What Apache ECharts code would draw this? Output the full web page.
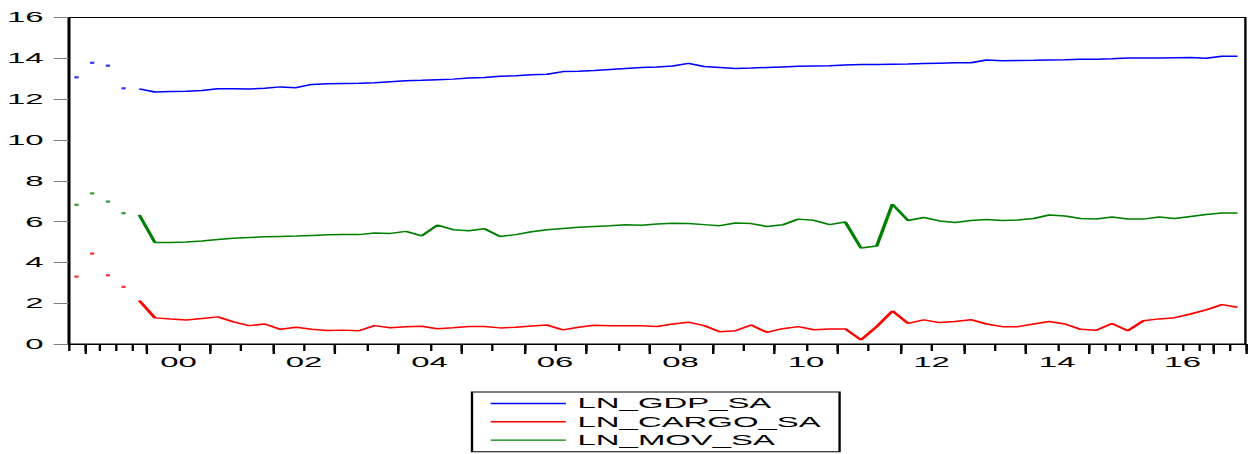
<!DOCTYPE html>
<html>
<head>
<meta charset="utf-8">
<script src="https://cdn.jsdelivr.net/npm/echarts@6/dist/echarts.min.js"></script>
<style>
  html, body { margin: 0; padding: 0; background: #fff; overflow: hidden; }
  #wrap { width: 1256px; height: 454px; overflow: hidden; }
  #chart { height: 454px; transform-origin: 0 0; }
</style>
</head>
<body>
<div id="wrap"><div id="chart"></div></div>
<script>
// Quarterly observations, 1998Q4 - 2017Q2
const quarters = [
  '1998Q4',
  '1999Q1','1999Q2','1999Q3','1999Q4',
  '2000Q1','2000Q2','2000Q3','2000Q4',
  '2001Q1','2001Q2','2001Q3','2001Q4',
  '2002Q1','2002Q2','2002Q3','2002Q4',
  '2003Q1','2003Q2','2003Q3','2003Q4',
  '2004Q1','2004Q2','2004Q3','2004Q4',
  '2005Q1','2005Q2','2005Q3','2005Q4',
  '2006Q1','2006Q2','2006Q3','2006Q4',
  '2007Q1','2007Q2','2007Q3','2007Q4',
  '2008Q1','2008Q2','2008Q3','2008Q4',
  '2009Q1','2009Q2','2009Q3','2009Q4',
  '2010Q1','2010Q2','2010Q3','2010Q4',
  '2011Q1','2011Q2','2011Q3','2011Q4',
  '2012Q1','2012Q2','2012Q3','2012Q4',
  '2013Q1','2013Q2','2013Q3','2013Q4',
  '2014Q1','2014Q2','2014Q3','2014Q4',
  '2015Q1','2015Q2','2015Q3','2015Q4',
  '2016Q1','2016Q2','2016Q3','2016Q4',
  '2017Q1','2017Q2'
];

// Year labels, each centred on the middle of its year
const yearLabels = ['00', '02', '04', '06', '08', '10', '12', '14', '16'];
const yearLabelAt = ['2000Q3', '2002Q3', '2004Q3', '2006Q3', '2008Q3', '2010Q3', '2012Q3', '2014Q3', '2016Q3'];

const lnGdpSa = [
  13.07, 13.78, 13.64, 12.53,
  12.50, 12.35, 12.37, 12.39, 12.42, 12.51, 12.51, 12.50, 12.53, 12.60,
  12.56, 12.72, 12.75, 12.77, 12.78, 12.80, 12.85, 12.90, 12.92, 12.95,
  12.98, 13.03, 13.06, 13.12, 13.15, 13.20, 13.22, 13.35, 13.37, 13.40,
  13.45, 13.50, 13.55, 13.58, 13.62, 13.75, 13.60, 13.55, 13.50, 13.52,
  13.55, 13.58, 13.61, 13.62, 13.63, 13.67, 13.70, 13.70, 13.71, 13.72,
  13.74, 13.76, 13.78, 13.78, 13.92, 13.88, 13.89, 13.90, 13.92, 13.93,
  13.95, 13.96, 13.98, 14.01, 14.02, 14.02, 14.03, 14.04, 14.00, 14.10,
  14.10
];

const lnCargoSa = [
  3.30, 4.43, 3.37, 2.80,
  2.13, 1.28, 1.22, 1.18, 1.25, 1.33, 1.08, 0.90, 0.98, 0.72,
  0.82, 0.72, 0.66, 0.68, 0.65, 0.90, 0.80, 0.85, 0.87, 0.75,
  0.80, 0.86, 0.86, 0.79, 0.82, 0.88, 0.93, 0.69, 0.82, 0.92,
  0.90, 0.90, 0.89, 0.86, 0.98, 1.07, 0.90, 0.60, 0.65, 0.93,
  0.57, 0.75, 0.85, 0.70, 0.74, 0.74, 0.20, 0.85, 1.62, 1.01,
  1.18, 1.05, 1.10, 1.19, 0.98, 0.85, 0.85, 0.98, 1.10, 0.98,
  0.72, 0.67, 1.00, 0.65, 1.14, 1.23, 1.29, 1.47, 1.67, 1.93,
  1.80
];

const lnMovSa = [
  6.82, 7.38, 6.98, 6.41,
  6.33, 4.97, 4.98, 5.00, 5.05, 5.12, 5.18, 5.22, 5.25, 5.27,
  5.29, 5.32, 5.35, 5.36, 5.36, 5.44, 5.42, 5.52, 5.30, 5.83,
  5.60, 5.55, 5.65, 5.27, 5.36, 5.50, 5.60, 5.66, 5.72, 5.76,
  5.80, 5.84, 5.82, 5.88, 5.92, 5.90, 5.85, 5.80, 5.93, 5.90,
  5.76, 5.84, 6.12, 6.06, 5.85, 5.98, 4.70, 4.80, 6.85, 6.05,
  6.20, 6.03, 5.95, 6.05, 6.10, 6.05, 6.08, 6.15, 6.32, 6.27,
  6.15, 6.13, 6.22, 6.13, 6.12, 6.22, 6.15, 6.25, 6.35, 6.42,
  6.42
];

// The first observations stand alone and are drawn as separate points
const ISOLATED = 4;
// Quarterly ticks are used at both ends of the axis, half-yearly ticks in between
const QUARTER_TICKS_UNTIL = 5;
const QUARTER_TICKS_FROM = 66;

// The figure is drawn on a narrow canvas and stretched horizontally
const STRETCH = 2.35;
const W = 1256 / STRETCH;
const X = px => px / STRETCH;

const chartEl = document.getElementById('chart');
chartEl.style.width = W + 'px';
chartEl.style.transform = 'scaleX(' + STRETCH + ')';

const FONT = "'Liberation Sans', Arial, sans-serif";
const series = [
  { name: 'LN_GDP_SA', values: lnGdpSa, color: '#0000ff' },
  { name: 'LN_CARGO_SA', values: lnCargoSa, color: '#ff0000' },
  { name: 'LN_MOV_SA', values: lnMovSa, color: '#008000' }
];

const lineSeries = series.map(s => ({
  name: s.name,
  type: 'line',
  xAxisIndex: 0,
  yAxisIndex: 0,
  data: s.values.map((v, i) => (i < ISOLATED ? null : v)),
  symbol: 'none',
  connectNulls: false,
  silent: true,
  lineStyle: { color: s.color, width: 1.5 },
  itemStyle: { color: s.color },
  z: 3
}));

const pointSeries = series.map(s => ({
  name: s.name + ' (points)',
  type: 'scatter',
  xAxisIndex: 0,
  yAxisIndex: 0,
  data: s.values.slice(0, ISOLATED).map((v, i) => [i, v]),
  symbol: 'rect',
  symbolSize: [1.8, 2.2],
  silent: true,
  itemStyle: { color: s.color },
  z: 3
}));

const labelBoundary = {};
yearLabelAt.forEach((q, k) => { labelBoundary[quarters.indexOf(q)] = yearLabels[k]; });

const chart = echarts.init(chartEl, null, { renderer: 'svg' });
chart.setOption({
  animation: false,
  backgroundColor: '#ffffff',
  textStyle: { fontFamily: FONT },
  grid: {
    left: X(68),
    right: W - X(1246.5),
    top: 17.5,
    bottom: 110,
    show: true,
    borderColor: '#000',
    borderWidth: 1,
    backgroundColor: 'transparent'
  },
  legend: {
    orient: 'vertical',
    left: X(472),
    top: 392,
    // plain line keys, no marker in the middle
    data: series.map(s => ({
      name: s.name,
      itemStyle: { opacity: 0 },
      lineStyle: { color: s.color, width: 1.4 }
    })),
    itemWidth: 32,
    itemHeight: 14,
    itemGap: 4.3,
    padding: [4.5, 8, 4.7, X(489) - X(472)],
    borderColor: '#000',
    borderWidth: 1,
    backgroundColor: '#fff',
    selectedMode: false,
    textStyle: { fontFamily: FONT, fontSize: 14, color: '#000' }
  },
  xAxis: [
    {
      type: 'category',
      position: 'bottom',
      data: quarters,
      boundaryGap: true,
      axisLine: { show: true, onZero: false, lineStyle: { color: '#000', width: 1 } },
      axisTick: {
        show: true,
        length: 7,
        lineStyle: { color: '#000', width: 1 },
        interval: (i, q) => i <= QUARTER_TICKS_UNTIL || i >= QUARTER_TICKS_FROM || /Q[13]$/.test(q)
      },
      axisLabel: { show: false },
      splitLine: { show: false }
    },
    {
      type: 'category',
      position: 'bottom',
      data: quarters,
      boundaryGap: true,
      axisLine: { show: false },
      axisTick: {
        show: true,
        length: 10,
        lineStyle: { color: '#000', width: 1 },
        interval: (i, q) => /Q1$/.test(q)
      },
      axisLabel: { show: false },
      splitLine: { show: false }
    },
    {
      type: 'value',
      position: 'bottom',
      min: 0,
      max: quarters.length,
      interval: 1,
      axisLine: { show: false },
      axisTick: { show: false },
      splitLine: { show: false },
      axisLabel: {
        show: true,
        margin: 11,
        fontFamily: FONT,
        fontSize: 14,
        color: '#000',
        formatter: v => labelBoundary[v] || ''
      }
    }
  ],
  yAxis: {
    type: 'value',
    min: 0,
    max: 16,
    interval: 2,
    axisLine: { show: true, lineStyle: { color: '#000', width: 1 } },
    axisTick: { show: true, inside: false, length: X(15), lineStyle: { color: '#808080', width: 1 } },
    axisLabel: { margin: X(25), fontFamily: FONT, fontSize: 14, color: '#000' },
    splitLine: { show: false }
  },
  series: lineSeries.concat(pointSeries)
});
</script>
</body>
</html>
